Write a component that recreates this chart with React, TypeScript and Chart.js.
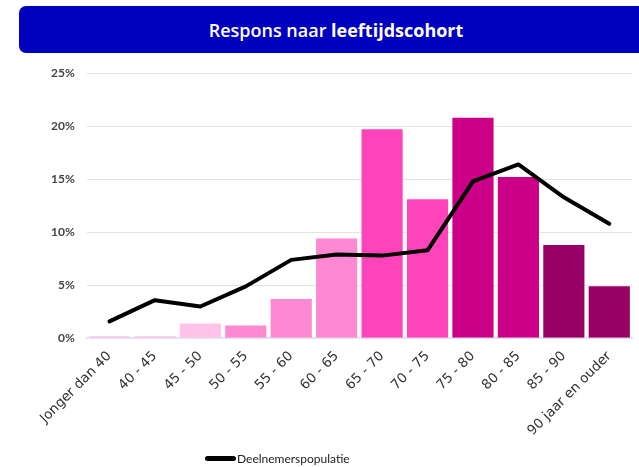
import React, { useEffect, useRef } from "react";
import { Chart, registerables } from "chart.js";

Chart.register(...registerables);

const categories = [
  "Jonger dan 40",
  "40 - 45",
  "45 - 50",
  "50 - 55",
  "55 - 60",
  "60 - 65",
  "65 - 70",
  "70 - 75",
  "75 - 80",
  "80 - 85",
  "85 - 90",
  "90 jaar en ouder",
];

const responsValues = [0.3, 0.3, 1.5, 1.3, 3.8, 9.5, 19.8, 13.2, 20.9, 15.3, 8.9, 5.0];
const populatieValues = [1.6, 3.6, 3.0, 4.9, 7.4, 7.9, 7.8, 8.3, 14.8, 16.4, 13.3, 10.8];
const yTickValues = [0, 5, 10, 15, 20, 25];

const barColors = [
  "#FFC2E9",
  "#FFC2E9",
  "#FFC2E9",
  "#FF88D2",
  "#FF88D2",
  "#FF88D2",
  "#FF44BB",
  "#FF44BB",
  "#CC0088",
  "#CC0088",
  "#990066",
  "#990066",
];

const LATO = "Lato, 'Open Sans', sans-serif";
const OPEN = "'Open Sans', Lato, sans-serif";
const DEJAVU = "'DejaVu Sans', 'Open Sans', sans-serif";
const LINE_LABEL = "Deelnemerspopulatie";

export default function App() {
  const canvasRef = useRef<HTMLCanvasElement | null>(null);

  useEffect(() => {
    if (!canvasRef.current) return;
    const chart = new Chart(canvasRef.current, {
      type: "bar",
      data: {
        labels: categories,
        datasets: [
          {
            type: "line",
            label: LINE_LABEL,
            data: populatieValues,
            borderColor: "#000000",
            backgroundColor: "#000000",
            borderWidth: 4,
            pointRadius: 0,
            tension: 0,
            borderCapStyle: "round",
            borderJoinStyle: "round",
            order: 0,
          } as any,
          {
            type: "bar",
            label: "Respons",
            data: responsValues,
            backgroundColor: barColors,
            borderColor: "rgba(255,255,255,0.35)",
            borderWidth: 1,
            barPercentage: 0.95,
            categoryPercentage: 1,
            order: 1,
          } as any,
        ],
      },
      options: {
        animation: false,
        responsive: false,
        maintainAspectRatio: false,
        layout: { padding: { left: 39, right: 7, top: 2, bottom: 32 } },
        plugins: {
          title: { display: false },
          tooltip: { enabled: false },
          legend: { display: false },
        },
        scales: {
          x: {
            grid: { display: false },
            border: { color: "#E2E2F2", width: 2 },
            ticks: {
              color: "#333",
              font: { family: DEJAVU, size: 13.5 },
              maxRotation: 45,
              minRotation: 45,
              autoSkip: false,
              padding: 2,
            },
          },
          y: {
            min: 0,
            max: 25,
            grid: { color: "#E2E2E2", drawTicks: false, lineWidth: 1 },
            border: { display: false },
            afterBuildTicks: (axis: any) => {
              axis.ticks = yTickValues.map((v) => ({ value: v }));
            },
            ticks: {
              color: "#444",
              font: { family: LATO, size: 12, weight: "bold" },
              padding: 12,
              callback: (v: any) => v + "%",
            },
          },
        },
      },
    });
    return () => chart.destroy();
  }, []);

  return (
    <div
      style={{
        position: "absolute",
        left: 0,
        top: 0,
        width: 639,
        height: 467,
        overflow: "hidden",
        background: "#fff",
      }}
    >
      <div
        style={{
          position: "absolute",
          left: 19,
          top: 6,
          width: 634,
          height: 47,
          background: "#0000BF",
          borderRadius: 7,
          color: "#fff",
          fontFamily: OPEN,
          fontSize: 18,
          display: "flex",
          alignItems: "center",
          justifyContent: "center",
        }}
      >
        <span style={{ fontWeight: 600 }}>Respons naar&nbsp;</span>
        <span style={{ fontWeight: 700 }}>leeftijdscohort</span>
      </div>
      <canvas
        ref={canvasRef}
        width={639}
        height={419}
        style={{ position: "absolute", left: 0, top: 54, width: 639, height: 419 }}
      />
      <div
        style={{
          position: "absolute",
          left: 205,
          top: 449,
          height: 18,
          display: "flex",
          alignItems: "center",
          fontFamily: LATO,
          fontSize: 12,
          color: "#222",
        }}
      >
        <span
          style={{
            display: "inline-block",
            width: 31,
            height: 5,
            borderRadius: 3,
            background: "#000",
            marginRight: 1,
          }}
        />
        <span>{LINE_LABEL}</span>
      </div>
    </div>
  );
}
